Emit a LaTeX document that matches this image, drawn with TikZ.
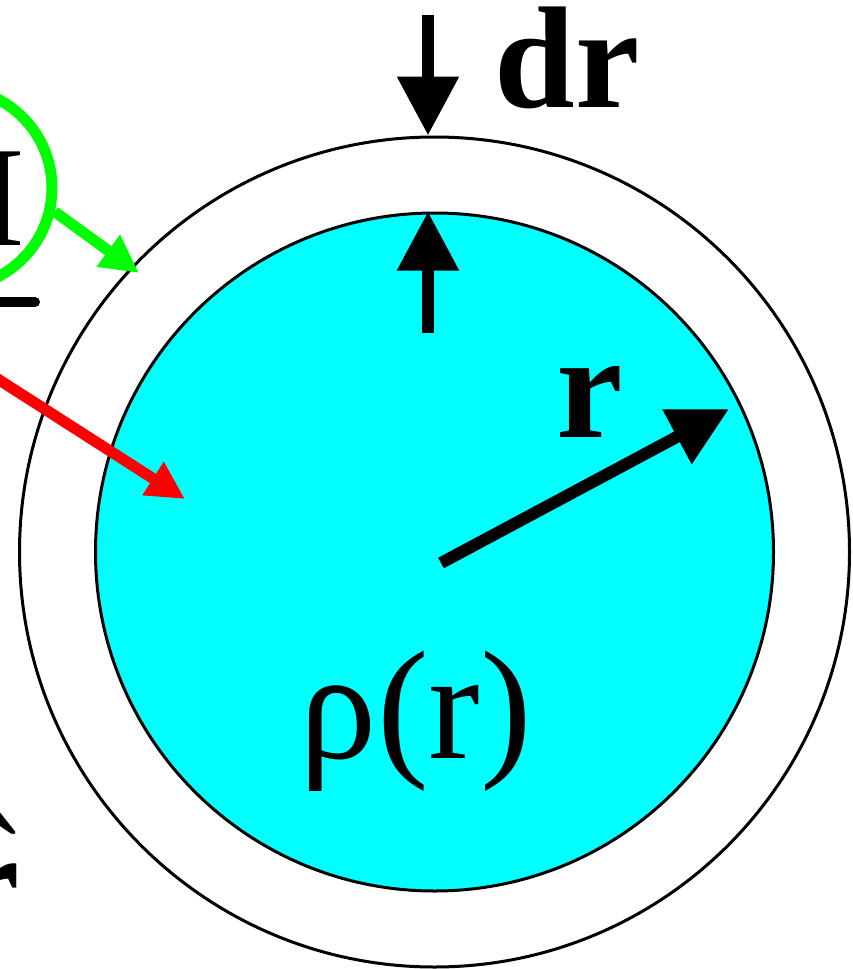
\documentclass[tikz,border=0pt]{standalone}
\usepackage{fontspec}
\setmainfont{Liberation Serif}
\usetikzlibrary{arrows.meta}
\definecolor{corecyan}{RGB}{0,255,255}
\definecolor{ringgreen}{RGB}{0,255,0}
\definecolor{arrowred}{RGB}{255,0,0}

\begin{document}
\begin{tikzpicture}[
    x=1pt, y=-1pt, line width=3pt,
    ball/.style={draw,circle,inner sep=0pt},
    bigarrow/.style={-{Triangle[length=59pt,width=59pt]},line width=12pt},
    thinarrow/.style={-{Triangle[length=38pt,width=37pt]},line width=11pt},
    label/.style={inner sep=0pt,font=\fontsize{145}{150}\selectfont},
    boldlabel/.style={inner sep=0pt,font=\fontsize{150}{155}\selectfont\bfseries}
]
\clip (0,0) rectangle (852,969);

\node[ball,fill=corecyan,minimum size=678pt] (core) at (434.5,552) {};
\node[ball,minimum size=830pt] (shell) at (434.5,552) {};

% shell thickness
\coordinate (drtop) at (428,15);
\coordinate (drbot) at (428,333);
\draw[bigarrow] (drtop) -- ([xshift=-6.5pt]shell.north);
\draw[bigarrow] (drbot) -- ([xshift=-6.5pt]core.north);
\node[boldlabel,font=\fontsize{145}{150}\selectfont\bfseries,anchor=base west] (drlabel) at (493,107) {dr};

% radius
\coordinate (rtail) at (441,563);
\coordinate (rtip) at (729,409);
\draw[bigarrow] (rtail) -- (rtip);
\node[boldlabel,anchor=base west] (rlabel) at (555,437) {r};
\node[label,font=\fontsize{155}{160}\selectfont,anchor=base] (rho) at (416,758) {ρ(r)};

% cut-off equation at the left edge
\node[label,font=\fontsize{143}{148}\selectfont,anchor=base east] (mass) at (26,245) {M};
\draw[line width=10pt,line cap=round] (-30,302) -- (35,302);
\node[ball,draw=ringgreen,line width=11pt,minimum size=200pt] (ring) at (-48,188) {};
\coordinate (greentip) at (139,273);
\draw[thinarrow,ringgreen] (ring.-13) -- (greentip);
\coordinate (redtail) at (-60,342);
\coordinate (redtip) at (185,499);
\draw[thinarrow,arrowred] (redtail) -- (redtip);
\node[boldlabel,font=\fontsize{145}{150}\selectfont\bfseries,anchor=base east] (unitr) at (21,932) {r};
\node[label,anchor=base] (unithat) at (-7,913) {ˆ};
\end{tikzpicture}
\end{document}
